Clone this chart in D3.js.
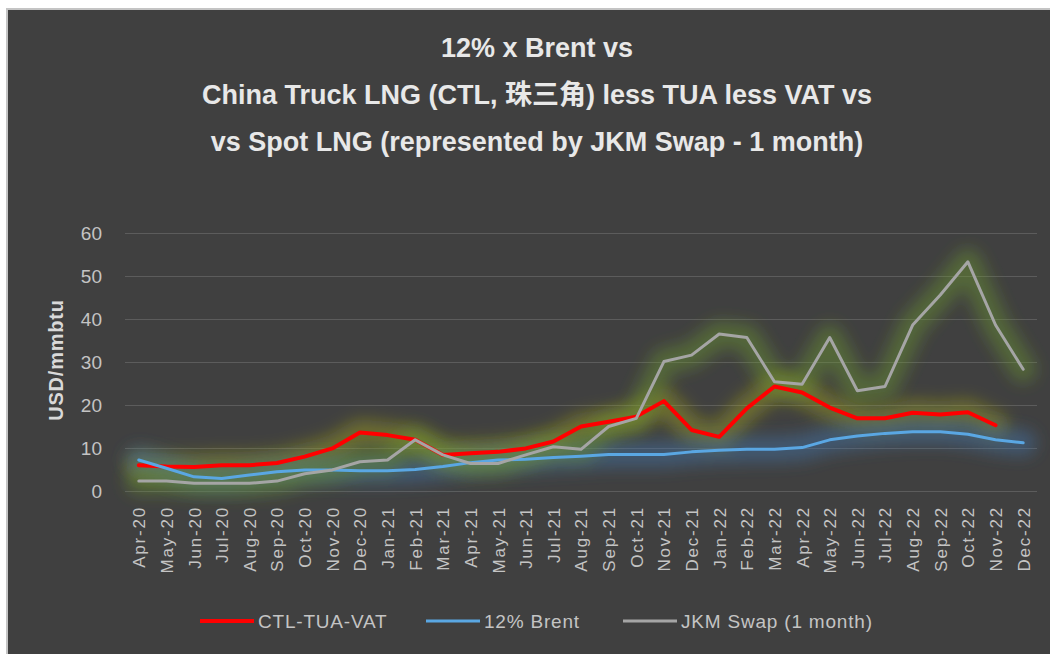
<!DOCTYPE html>
<html>
<head>
<meta charset="utf-8">
<script src="https://cdn.jsdelivr.net/npm/d3@7/dist/d3.min.js"></script>
<style>
  html, body { margin: 0; padding: 0; background: #ffffff; }
  svg { display: block; }
</style>
</head>
<body>
<svg id="chart" width="1050" height="654"></svg>
<script>
const categories = ["Apr-20","May-20","Jun-20","Jul-20","Aug-20","Sep-20","Oct-20","Nov-20","Dec-20",
  "Jan-21","Feb-21","Mar-21","Apr-21","May-21","Jun-21","Jul-21","Aug-21","Sep-21","Oct-21","Nov-21","Dec-21",
  "Jan-22","Feb-22","Mar-22","Apr-22","May-22","Jun-22","Jul-22","Aug-22","Sep-22","Oct-22","Nov-22","Dec-22"];

const ctlTuaVat = [6.0, 5.7, 5.6, 6.0, 6.0, 6.5, 8.0, 9.9, 13.6,
  13.0, 11.9, 8.4, 8.8, 9.1, 9.9, 11.5, 15.0, 16.1, 17.3, 20.9, 14.2,
  12.6, 19.2, 24.3, 22.9, 19.4, 16.9, 16.9, 18.2, 17.8, 18.3, 15.3, null];

const brent12 = [7.2, 5.3, 3.3, 2.9, 3.7, 4.5, 4.9, 4.9, 4.7,
  4.7, 5.0, 5.7, 6.6, 7.2, 7.4, 7.8, 8.1, 8.5, 8.5, 8.5, 9.1,
  9.5, 9.7, 9.7, 10.1, 11.9, 12.8, 13.4, 13.8, 13.8, 13.2, 11.9, 11.2];

const jkmSwap = [2.3, 2.3, 1.8, 1.8, 1.8, 2.3, 4.0, 4.9, 6.8,
  7.2, 11.9, 8.4, 6.4, 6.4, 8.4, 10.3, 9.7, 15.0, 16.9, 30.1, 31.6,
  36.5, 35.7, 25.4, 24.8, 35.7, 23.3, 24.3, 38.6, 45.6, 53.3, 38.6, 28.3];

const yTicks = [0, 10, 20, 30, 40, 50, 60];

const titleLines = ["12% x Brent vs",
  "China Truck LNG (CTL, 珠三角) less TUA less VAT vs",
  "vs Spot LNG (represented by JKM Swap - 1 month)"];
const yAxisTitle = "USD/mmbtu";

const seriesNames = ["CTL-TUA-VAT", "12% Brent", "JKM Swap (1 month)"];

const series = [
  { name: seriesNames[0], values: ctlTuaVat, color: "#ff0000", width: 4, glow: "#a8a820", glowOp: 0.42 },
  { name: seriesNames[1], values: brent12, color: "#5aa7e3", width: 3, glow: "#3f72a4", glowOp: 0.5 },
  { name: seriesNames[2], values: jkmSwap, color: "#a5a5a5", width: 3, glow: "#6e9e2a", glowOp: 0.42 }
];

const svg = d3.select("#chart");

// background frame
svg.append("rect").attr("x", 7).attr("y", 9).attr("width", 1060).attr("height", 660)
  .attr("fill", "#404040").attr("stroke", "#c4c4c4").attr("stroke-width", 2);

const defs = svg.append("defs");
defs.append("filter").attr("id", "glow")
  .attr("filterUnits", "userSpaceOnUse")
  .attr("x", 0).attr("y", 0).attr("width", 1050).attr("height", 654)
  .append("feGaussianBlur").attr("stdDeviation", 8);

const x = d3.scalePoint().domain(categories).range([125, 1037]).padding(0.5);
const y = d3.scaleLinear().domain([0, 60]).range([491, 233]);

// title
const title = svg.append("g");
titleLines.forEach((t, i) => {
  title.append("text")
    .attr("x", 537).attr("y", 57 + i * 47)
    .attr("text-anchor", "middle")
    .attr("font-family", "'Liberation Sans', 'Noto Sans CJK SC', sans-serif")
    .attr("font-weight", "bold")
    .attr("font-size", 27)
    .attr("fill", "#e8e8e8")
    .text(t);
});

// gridlines + y tick labels
const yAxis = d3.axisLeft(y).tickValues(yTicks).tickSize(-(1037 - 125)).tickPadding(23);
const gy = svg.append("g").attr("transform", "translate(125,0)").call(yAxis);
gy.select(".domain").remove();
gy.selectAll(".tick line").attr("stroke", "#5c5c5c").attr("stroke-width", 1);
gy.selectAll(".tick text")
  .attr("fill", "#c4c4c4")
  .attr("font-family", "'Liberation Sans', sans-serif")
  .attr("font-size", 19);

// x axis labels
const xAxis = d3.axisBottom(x).tickSize(0).tickPadding(0);
const gx = svg.append("g").attr("transform", "translate(0,491)").call(xAxis);
gx.select(".domain").remove();
gx.selectAll(".tick text")
  .attr("transform", "translate(0,15) rotate(-90)")
  .attr("text-anchor", "end")
  .attr("dy", "0.35em")
  .attr("x", 0).attr("y", 0)
  .attr("fill", "#c4c4c4")
  .attr("font-family", "'Liberation Sans', sans-serif")
  .attr("font-size", 17)
  .attr("letter-spacing", 1.8);

// y axis title
svg.append("text")
  .attr("transform", "translate(63,360) rotate(-90)")
  .attr("text-anchor", "middle")
  .attr("font-family", "'Liberation Sans', sans-serif")
  .attr("font-weight", "bold")
  .attr("font-size", 20)
  .attr("letter-spacing", 0.8)
  .attr("fill", "#d9d9d9")
  .text(yAxisTitle);

const line = d3.line()
  .defined(d => d.v != null)
  .x(d => x(d.c))
  .y(d => y(d.v));

const dataFor = s => categories.map((c, i) => ({ c: c, v: s.values[i] }));

// glows
series.forEach(s => {
  svg.append("path")
    .attr("d", line(dataFor(s)))
    .attr("fill", "none")
    .attr("stroke", s.glow)
    .attr("stroke-opacity", s.glowOp)
    .attr("stroke-width", 26)
    .attr("stroke-linejoin", "round")
    .attr("stroke-linecap", "round")
    .attr("filter", "url(#glow)");
});

// lines
series.forEach(s => {
  svg.append("path")
    .attr("d", line(dataFor(s)))
    .attr("fill", "none")
    .attr("stroke", s.color)
    .attr("stroke-width", s.width)
    .attr("stroke-linejoin", "round")
    .attr("stroke-linecap", "round");
});

// legend
const legendPos = [200, 426, 623];
const legend = svg.append("g");
series.forEach((s, i) => {
  const lx = legendPos[i];
  legend.append("line")
    .attr("x1", lx).attr("x2", lx + 54)
    .attr("y1", 621).attr("y2", 621)
    .attr("stroke", s.color).attr("stroke-width", s.width);
  legend.append("text")
    .attr("x", lx + 58).attr("y", 621)
    .attr("dy", "0.35em")
    .attr("font-family", "'Liberation Sans', sans-serif")
    .attr("font-size", 19)
    .attr("letter-spacing", 0.8)
    .attr("fill", "#c4c4c4")
    .text(s.name);
});
</script>
</body>
</html>
